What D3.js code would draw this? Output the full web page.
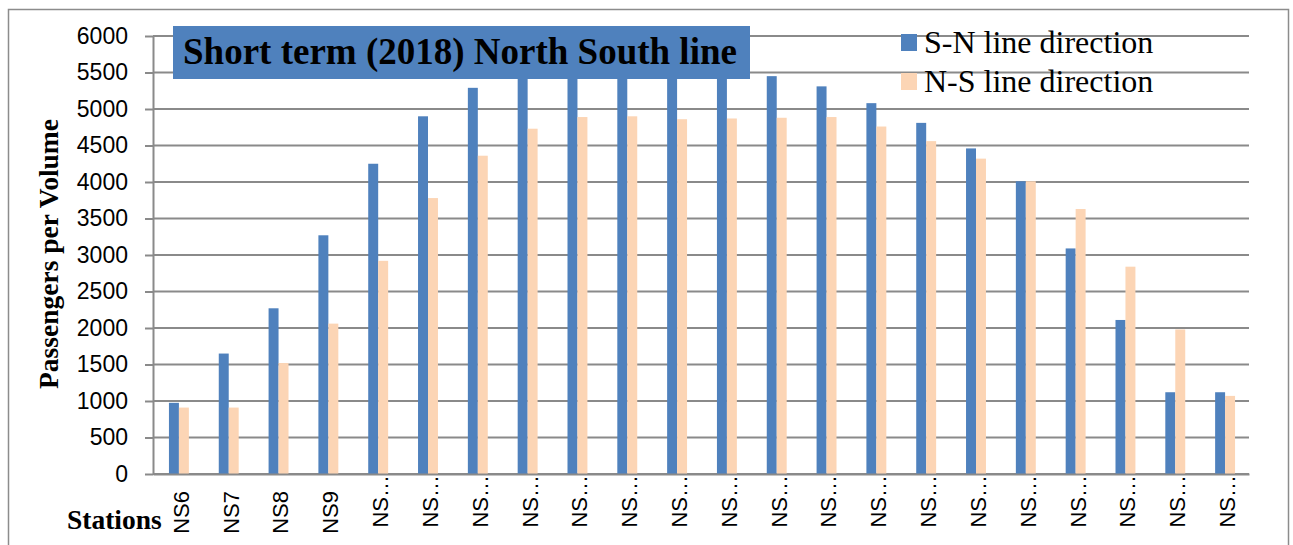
<!DOCTYPE html>
<html>
<head>
<meta charset="utf-8">
<script src="https://cdn.jsdelivr.net/npm/d3@7"></script>
<style>
  html, body { margin: 0; padding: 0; background: #fff; }
  svg { display: block; }
</style>
</head>
<body>
<svg id="chart" width="1293" height="545"></svg>
<script>
// Station labels along the category axis (long names shown truncated)
const categories = ["NS6", "NS7", "NS8", "NS9",
  "NS…", "NS…", "NS…", "NS…", "NS…", "NS…", "NS…", "NS…", "NS…",
  "NS…", "NS…", "NS…", "NS…", "NS…", "NS…", "NS…", "NS…", "NS…"];

const seriesNames = ["S-N line direction", "N-S line direction"];

// Passenger volumes per station, south-to-north direction
const snValues = [975, 1650, 2270, 3270, 4250, 4900, 5290, 5550, 5700, 5750, 5700,
  5600, 5450, 5310, 5080, 4810, 4460, 4010, 3090, 2110, 1120, 1120];

// Passenger volumes per station, north-to-south direction
const nsValues = [910, 910, 1520, 2060, 2920, 3780, 4360, 4730, 4890, 4900, 4860,
  4870, 4880, 4890, 4760, 4560, 4320, 4010, 3630, 2840, 1980, 1070];

const yTicks = [0, 500, 1000, 1500, 2000, 2500, 3000, 3500, 4000, 4500, 5000, 5500, 6000];

const titleText = "Short term (2018) North South line";
const yTitle = "Passengers per Volume";
const xTitle = "Stations";

const colors = ["#4F81BD", "#FCD5B5"];
const gridColor = "#8a8a8a";

const svg = d3.select("#chart");

// chart frame
svg.append("rect")
  .attr("x", 8.5).attr("y", 9.5)
  .attr("width", 1280).attr("height", 560)
  .attr("fill", "#fff")
  .attr("stroke", "#8c8c8c").attr("stroke-width", 1.5);

const plot = { left: 153, right: 1249, top: 36, bottom: 474 };

const x = d3.scaleBand()
  .domain(d3.range(categories.length))
  .range([plot.left, plot.right])
  .paddingInner(0.6)
  .paddingOuter(0.3);

const xSeries = d3.scaleBand()
  .domain([0, 1])
  .range([0, x.bandwidth()]);

const y = d3.scaleLinear()
  .domain([0, 6000])
  .range([plot.bottom, plot.top]);

// horizontal gridlines
svg.append("g")
  .selectAll("line")
  .data(yTicks)
  .join("line")
  .attr("x1", plot.left).attr("x2", plot.right)
  .attr("y1", d => y(d)).attr("y2", d => y(d))
  .attr("stroke", gridColor).attr("stroke-width", 2);

// value axis
const yAxis = svg.append("g")
  .attr("transform", `translate(${plot.left},0)`)
  .call(d3.axisLeft(y).tickValues(yTicks).tickFormat(d3.format("d"))
    .tickSize(8).tickPadding(17).tickSizeOuter(0));
yAxis.select(".domain").attr("stroke", gridColor).attr("stroke-width", 2);
yAxis.selectAll(".tick line").attr("stroke", gridColor).attr("stroke-width", 2);
yAxis.selectAll(".tick text")
  .attr("font-family", "'Liberation Sans', Arial, sans-serif")
  .attr("font-size", 23)
  .attr("fill", "#000");

// bars
const series = [snValues, nsValues];
series.forEach((vals, si) => {
  svg.append("g")
    .selectAll("rect")
    .data(vals)
    .join("rect")
    .attr("x", (d, i) => x(i) + xSeries(si) + 1)
    .attr("width", xSeries.bandwidth())
    .attr("y", d => y(d))
    .attr("height", d => y(0) - y(d))
    .attr("fill", colors[si]);
});

// category axis
const xAxis = svg.append("g")
  .attr("transform", `translate(0,${plot.bottom})`)
  .call(d3.axisBottom(x).tickSize(0).tickFormat(i => categories[i]));
xAxis.select(".domain").attr("stroke", gridColor).attr("stroke-width", 2);
xAxis.selectAll(".tick text")
  .attr("font-family", "'Liberation Sans', Arial, sans-serif")
  .attr("font-size", 22)
  .attr("fill", "#000")
  .attr("text-anchor", "end")
  .attr("transform", (i) => {
    const off = categories[i].endsWith("…") ? 1 : 17;
    return `translate(3,${off}) rotate(-90)`;
  })
  .attr("x", 0).attr("y", 0).attr("dy", "0.36em");

// axis titles
svg.append("text")
  .attr("transform", "translate(58,254) rotate(-90)")
  .attr("text-anchor", "middle")
  .attr("font-family", "'Liberation Serif', 'Times New Roman', serif")
  .attr("font-weight", "bold")
  .attr("font-size", 27.5)
  .text(yTitle);

svg.append("text")
  .attr("x", 67).attr("y", 529)
  .attr("font-family", "'Liberation Serif', 'Times New Roman', serif")
  .attr("font-weight", "bold")
  .attr("font-size", 27.5)
  .text(xTitle);

// title box
svg.append("rect")
  .attr("x", 173).attr("y", 26)
  .attr("width", 577).attr("height", 53)
  .attr("fill", "#4F81BD");
svg.append("text")
  .attr("x", 183).attr("y", 64)
  .attr("font-family", "'Liberation Serif', 'Times New Roman', serif")
  .attr("font-weight", "bold")
  .attr("font-size", 37)
  .attr("fill", "#000")
  .text(titleText);

// legend
const legend = svg.append("g");
seriesNames.forEach((name, i) => {
  const ly = 34 + i * 39;
  legend.append("rect")
    .attr("x", 901).attr("y", ly)
    .attr("width", 16).attr("height", 17)
    .attr("fill", colors[i]);
  legend.append("text")
    .attr("x", 924).attr("y", ly + 19)
    .attr("font-family", "'Liberation Serif', 'Times New Roman', serif")
    .attr("font-size", 32)
    .attr("fill", "#000")
    .text(name);
});
</script>
</body>
</html>
